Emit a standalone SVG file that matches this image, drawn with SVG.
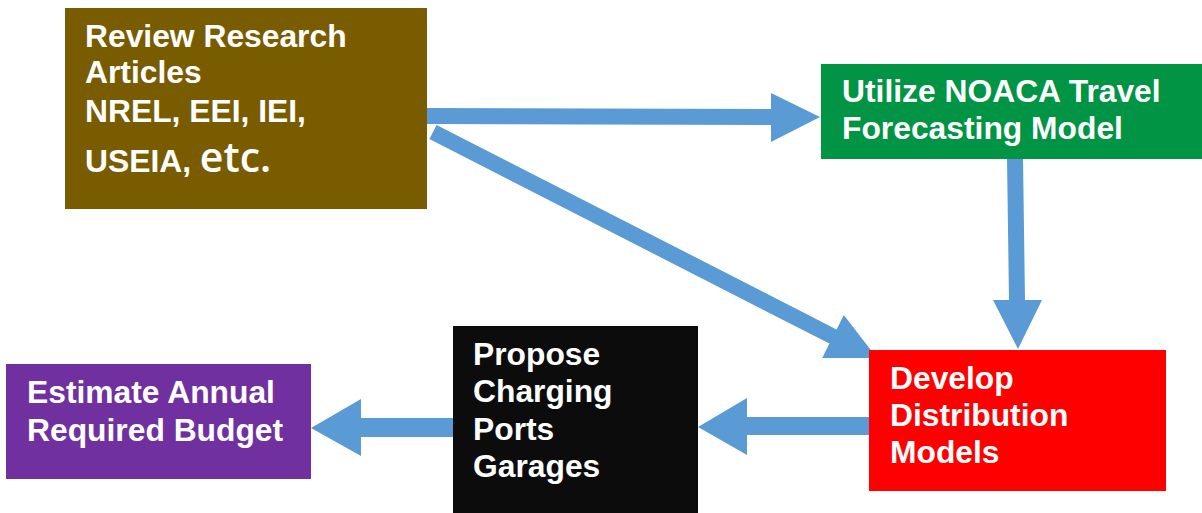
<svg xmlns="http://www.w3.org/2000/svg" width="1202" height="513" viewBox="0 0 1202 513">
  <style>
    .lbl { font-family: "Liberation Sans", Arial, sans-serif; font-weight: bold; font-size: 31.8px; fill: #ffffff; }
    .big { font-family: "Open Sans", "Liberation Sans", sans-serif; font-weight: 600; font-size: 41px; }
    .arrow { fill: #5B9BD5; }
  </style>
  <rect width="1202" height="513" fill="#ffffff"/>

  <!-- connectors -->
  <g id="connectors">
    <!-- research -> travel model -->
    <polygon class="arrow" points="427,108 771,109 771,93 820,117 771,142 771,125 427,124"/>
    <!-- research -> distribution models -->
    <polygon class="arrow" points="436.6,124.9 836.6,329.4 843.8,315.1 877,358 822.2,357.9 829.4,343.6 429.4,139.1"/>
    <!-- travel model -> distribution models -->
    <polygon class="arrow" points="1007,158 1023,158 1025,300 1042,300 1018,349 993,300 1009,300"/>
    <!-- distribution models -> charging ports -->
    <polygon class="arrow" points="869,417 747,417 747,398 698,427 747,455 747,435 869,435"/>
    <!-- charging ports -> budget -->
    <polygon class="arrow" points="453,418 361,418 361,399 311,428 361,456 361,437 453,437"/>
  </g>

  <g id="review-research">
    <rect x="65" y="8" width="362" height="201" fill="#7A5C00"/>
    <text class="lbl" x="85" y="47">Review Research</text>
    <text class="lbl" x="85" y="83">Articles</text>
    <text class="lbl" x="85" y="122">NREL, EEI, IEI,</text>
    <text class="lbl" x="85" y="172">USEIA, <tspan class="big">etc.</tspan></text>
  </g>

  <g id="travel-model">
    <rect x="821" y="64" width="381" height="95" fill="#009444"/>
    <text class="lbl" x="842" y="102">Utilize NOACA Travel</text>
    <text class="lbl" x="842" y="139">Forecasting Model</text>
  </g>

  <g id="distribution-models">
    <rect x="869" y="350" width="297" height="141" fill="#FF0000"/>
    <text class="lbl" x="890" y="389">Develop</text>
    <text class="lbl" x="890" y="426">Distribution</text>
    <text class="lbl" x="890" y="463">Models</text>
  </g>

  <g id="charging-ports">
    <rect x="453" y="326" width="245" height="187" fill="#0C0C0C"/>
    <text class="lbl" x="473" y="365">Propose</text>
    <text class="lbl" x="473" y="402">Charging</text>
    <text class="lbl" x="473" y="440">Ports</text>
    <text class="lbl" x="473" y="477">Garages</text>
  </g>

  <g id="annual-budget">
    <rect x="6" y="364" width="305" height="115" fill="#7030A0"/>
    <text class="lbl" x="27" y="403">Estimate Annual</text>
    <text class="lbl" x="27" y="441">Required Budget</text>
  </g>
</svg>
